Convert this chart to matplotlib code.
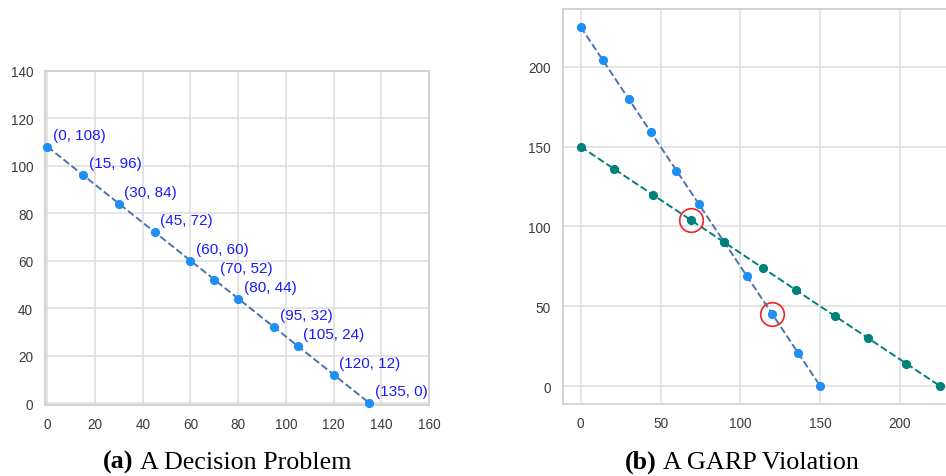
import matplotlib
matplotlib.use("Agg")
import matplotlib.pyplot as plt

# (a) budget line of a single decision problem
xa = [0, 15, 30, 45, 60, 70, 80, 95, 105, 120, 135]
ya = [108, 96, 84, 72, 60, 52, 44, 32, 24, 12, 0]

# (b) two budget lines and the chosen bundles that violate GARP
xb1 = [0, 14, 30, 44, 60, 74, 90, 104, 120, 136, 150]
yb1 = [225, 204, 180, 159, 135, 114, 90, 69, 45, 21, 0]
xb2 = [0, 21, 45, 69, 90, 114, 135, 159, 180, 204, 225]
yb2 = [150, 136, 120, 104, 90, 74, 60, 44, 30, 14, 0]
chosen_x = [69, 120]
chosen_y = [104, 45]

plt.rcParams["font.family"] = ["Liberation Sans", "DejaVu Sans"]

GRID = "#dcdcdc"
SPINE = "#d0d0d0"
TICK = "#3c3c3c"
PT_BLUE = "#1e8ff5"
LN_BLUE = "#4c72b0"
TEAL = "#00807a"
TICK_FS = 9.8

fig = plt.figure(figsize=(9.46, 4.77), dpi=100)


def style(ax):
    ax.set_facecolor("white")
    ax.grid(True, color=GRID, linewidth=1.1)
    ax.set_axisbelow(True)
    for s in ax.spines.values():
        s.set_color(SPINE)
        s.set_linewidth(1.3)
    ax.tick_params(length=0, labelsize=TICK_FS, labelcolor=TICK, pad=8.5)


# panel (a)
ax1 = fig.add_axes([45 / 946, 1 - 405.7 / 477, (429 - 45) / 946, (405.7 - 71.7) / 477])
ax1.plot(xa, ya, linestyle="--", color=LN_BLUE, linewidth=1.4, zorder=2)
ax1.plot(xa, ya, linestyle="none", marker="o", markersize=5.6, color=PT_BLUE,
         zorder=3, clip_on=False)
for x, y in zip(xa, ya):
    ax1.annotate(f"({x}, {y})", (x, y), xytext=(4, 3.5), textcoords="offset points",
                 ha="left", va="bottom", color="#1a1aff", fontsize=11)
ax1.set_xlim(-1, 160)
ax1.set_ylim(-0.7, 140)
ax1.set_xticks(range(0, 161, 20))
ax1.set_yticks(range(0, 141, 20))
style(ax1)

# panel (b)
ax2 = fig.add_axes([562.7 / 946, 1 - 405 / 477, (958 - 562.7) / 946, (405 - 10) / 477])
ax2.plot(xb1, yb1, linestyle="--", color=LN_BLUE, linewidth=1.4, zorder=2)
ax2.plot(xb1, yb1, linestyle="none", marker="o", markersize=5.6, color=PT_BLUE, zorder=3)
ax2.plot(xb2, yb2, linestyle="--", color=TEAL, linewidth=1.4, zorder=4)
ax2.plot(xb2, yb2, linestyle="none", marker="o", markersize=5.6, color=TEAL, zorder=5)
ax2.plot(chosen_x, chosen_y, linestyle="none", marker="o", markersize=17,
         markerfacecolor="none", markeredgecolor="#ee2222", markeredgewidth=1.2, zorder=6)
ax2.set_xlim(-11.25, 236.25)
ax2.set_ylim(-11.25, 236.25)
ax2.set_xticks(range(0, 201, 50))
ax2.set_yticks(range(0, 201, 50))
style(ax2)

# captions: bold panel letter followed by the title
cap = dict(family=["Liberation Serif", "DejaVu Serif"], fontsize=18.8, va="baseline")
base = 1 - 469 / 477
for x0, tag, title in [(103, "(a)", "A Decision Problem"), (625, "(b)", "A GARP Violation")]:
    t = fig.text(x0 / 946, base, tag, fontweight="bold", ha="left", **cap)
    fig.canvas.draw()
    ext = t.get_window_extent()
    fig.text((ext.x1 + 6) / 946, base, title, ha="left", **cap)

fig.savefig("out.png", dpi=100)
